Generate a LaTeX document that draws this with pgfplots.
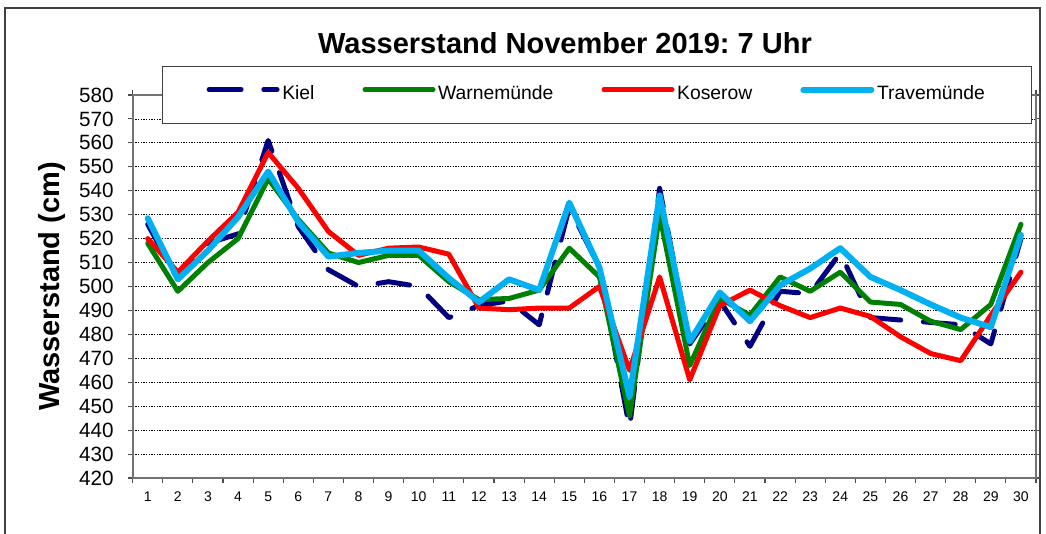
\documentclass[border=0pt]{standalone}
\usepackage{pgfplots}
\usepackage{pgfplotstable}
\pgfplotsset{compat=1.18}
\usepackage{fontspec}
\setmainfont{Liberation Sans}
\frenchspacing
\definecolor{kiel}{RGB}{0,0,128}
\definecolor{warn}{RGB}{0,128,0}
\definecolor{kos}{RGB}{255,0,0}
\definecolor{trave}{RGB}{0,176,240}
\pgfplotstableread{
day kiel warn kos trave
1  526 518   520   528.5
2  503 498   506   503
3  518 510   519   515
4  522 520   531   529
5  561 545   556   548
6  525 528   541   527
7  507 514   523   512.5
8  500 510   513   514
9  502 513   516   515
10 500 513   516.5 515
11 487 502   513.5 503.5
12 492 494.5 491   493.5
13 494 495   490.3 503
14 484 498.5 491   498.5
15 533 516   491   535
16 508 504   500   508
17 441 446   465   454
18 541 530   504   538
19 476 467   461   477
20 494 495   492   497.5
21 475 488   498.5 485.5
22 498 504   492   500.5
23 497 498   487   507.5
24 514 506   491   516
25 487 493.5 487.5 504
26 486 492.5 479   498.5
27 485 485.5 472   492.5
28 484 482   469   487
29 476 492.5 488   483
30 520 526   506   521.5
}\data
\begin{document}
\begin{tikzpicture}[x=1pt,y=1pt]
\useasboundingbox (0,0) rectangle (784.5,400.5);
\draw[line width=1.5pt, black!75] (3.75,-10) rectangle (780,394.5);
\begin{axis}[
  at={(99.5pt,42pt)}, anchor=south west,
  scale only axis, width=677.5pt, height=287.25pt,
  xmin=0.5, xmax=30.5, ymin=420, ymax=580,
  xtick={0.5,1.5,...,30.5}, xticklabels={},
  extra x ticks={1,2,...,30},
  extra x tick style={major tick length=0pt, grid=none,
    xticklabel style={yshift=-7pt}},
  ytick={420,430,...,580},
  tick align=outside, major tick length=3.75pt,
  tick style={black!70, line width=0.8pt},
  ymajorgrids,
  major grid style={black, line width=0.6pt, dash pattern=on 1pt off 1pt},
  axis line style={draw=gray!90!black, line width=1.3pt},
  /pgf/number format/assume math mode=true,
  yticklabel style={font=\fontsize{15.5}{18}\selectfont, xshift=-7pt},
  xticklabel style={font=\fontsize{10.5}{12}\selectfont},
  title={Wasserstand November 2019: 7 Uhr},
  title style={at={(axis description cs:0.4786,1.0862)}, anchor=base,
    font=\bfseries\fontsize{21.75}{26}\selectfont},
  ylabel={Wasserstand (cm)},
  ylabel style={at={(axis description cs:-0.0893,0.5)}, anchor=center,
    font=\bfseries\fontsize{21.75}{26}\selectfont},
  legend columns=4,
  legend style={at={(0.0324,1.0757)}, anchor=north west,
    draw=black!75, line width=1pt, fill=white,
    inner xsep=33pt, inner ysep=12.5pt,
    font=\fontsize{14.5}{17}\selectfont,
    nodes={text height=10.5pt, text depth=3pt},
    /tikz/every even column/.append style={column sep=34pt}},
  legend image code/.code={\draw[#1] (0pt,4pt) -- (51pt,4pt);},
  every axis plot/.append style={line cap=round, line join=round},
]
\addplot[kiel, line width=3.75pt, dash pattern=on 24pt off 17pt] table[x=day,y=kiel]{\data};
\addlegendentry{Kiel}
\addplot[warn, line width=3.75pt] table[x=day,y=warn]{\data};
\addlegendentry{Warnemünde}
\addplot[kos, line width=3.75pt] table[x=day,y=kos]{\data};
\addlegendentry{Koserow}
\addplot[trave, line width=4.5pt] table[x=day,y=trave]{\data};
\addlegendentry{Travemünde}
\end{axis}
\end{tikzpicture}
\end{document}
